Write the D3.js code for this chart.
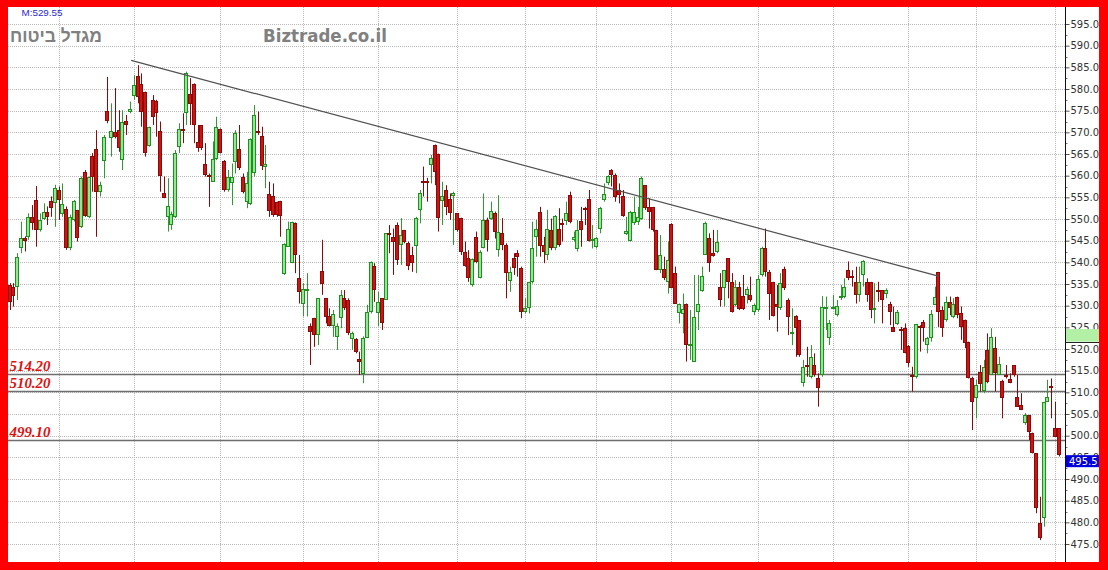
<!DOCTYPE html>
<html><head><meta charset="utf-8">
<script src="https://cdn.jsdelivr.net/npm/d3@7"></script>
<style>html,body{margin:0;padding:0;background:#fff;}svg{display:block}</style>
</head><body>
<svg id="c" width="1108" height="570"></svg>
<script>
const opens = [534.8,534.2,534.4,543.2,545.5,545.9,550.4,554.4,547.5,549.9,551.7,554.2,553.6,556.7,551.2,552.3,543.2,549.8,552.1,548.2,
560.9,550.4,564.6,566.1,556.3,563.4,575.0,568.8,570.1,570.5,563.6,572.6,574.6,578.4,583.0,581.1,579.2,566.8,577.5,577.2,
570.2,556.1,550.5,548.6,550.5,566.7,570.8,574.5,578.8,581.2,567.8,571.7,562.6,560.2,558.6,563.8,570.7,563.4,556.7,558.2,
563.2,566.1,559.8,554.0,553.5,560.5,570.3,569.1,562.1,555.7,555.2,554.0,554.2,537.3,543.6,539.9,549.0,536.3,530.5,533.7,
525.3,527.2,523.2,538.1,531.7,527.6,525.2,522.7,527.1,531.7,531.3,522.2,522.2,517.7,514.2,522.6,528.6,539.2,528.2,531.7,
531.3,546.8,545.9,548.6,544.0,547.5,544.4,541.7,543.8,552.1,558.8,558.8,562.5,567.1,565.1,554.2,556.7,554.6,555.2,551.3,
550.3,542.3,540.9,534.8,545.9,536.3,543.4,549.8,550.1,551.5,542.8,546.7,544.0,535.7,541.1,542.1,538.6,528.6,529.4,535.5,
545.8,551.7,544.0,541.7,547.5,543.2,547.8,549.0,549.6,555.5,545.2,543.0,549.5,552.6,554.6,545.1,543.5,547.8,554.4,558.4,
561.3,560.1,556.8,555.3,546.5,545.0,549.0,549.4,549.9,557.8,552.8,552.8,547.5,538.2,538.4,535.4,548.8,537.5,528.4,528.1,
530.5,520.9,517.1,528.6,533.4,541.7,545.5,542.2,542.5,534.4,534.0,540.9,535.5,530.2,534.4,532.2,532.5,532.5,528.6,529.0,
537.1,543.2,537.8,535.5,530.5,529.4,538.4,531.3,523.6,527.6,526.7,512.2,516.3,513.5,516.3,513.2,514.0,529.7,522.5,529.7,
527.8,531.7,532.1,538.2,536.8,535.5,532.5,537.1,535.5,535.5,529.0,533.6,533.6,532.8,530.5,525.1,525.8,524.6,524.8,520.7,
514.1,513.5,525.3,526.3,520.9,522.5,530.2,537.8,529.0,526.7,530.9,527.5,532.1,528.2,526.8,521.7,513.2,508.6,514.8,510.2,
519.8,514.0,520.2,514.0,512.7,514.1,513.0,516.3,509.0,507.1,502.9,504.8,500.7,495.9,479.8,480.9,507.8,511.5,501.7,501.7];
const highs = [535.2,535.2,542.1,549.4,546.0,551.3,553.2,557.6,551.3,553.6,552.9,555.2,557.9,557.5,558.2,552.9,551.0,554.4,552.1,559.8,
561.3,559.8,565.2,570.5,558.6,569.4,582.8,576.7,580.2,575.1,575.1,574.0,577.1,583.2,585.5,583.6,579.4,571.3,578.6,577.5,
572.5,559.8,559.4,551.7,565.9,572.1,574.4,584.0,582.5,581.3,571.7,571.7,567.5,560.5,567.9,573.6,570.9,563.6,561.3,562.8,
570.5,571.7,560.5,560.9,568.6,576.3,574.8,571.3,567.1,558.6,558.2,554.0,554.2,544.4,549.4,549.4,549.2,541.7,535.2,537.5,
525.9,527.2,531.7,545.2,531.7,529.4,529.0,525.9,533.6,533.6,531.7,524.0,522.5,519.4,522.9,530.2,540.2,539.8,533.2,531.7,
546.7,548.6,547.8,549.2,550.2,547.5,544.8,543.6,550.5,556.7,562.1,559.5,564.8,567.2,565.1,558.6,557.8,555.9,556.3,551.3,
550.3,544.8,542.8,540.9,547.1,542.8,555.9,550.3,554.0,551.7,555.5,550.2,544.4,539.0,542.1,542.8,539.0,531.7,535.5,549.4,
549.8,552.8,545.9,552.1,550.1,550.9,552.5,550.1,554.0,556.3,547.1,549.8,552.8,552.8,556.7,548.6,545.9,552.8,558.2,560.1,
561.5,560.5,558.2,556.7,550.5,551.9,555.2,552.8,559.8,557.8,554.8,552.8,547.5,546.3,541.3,544.8,549.0,539.0,530.5,532.8,
530.5,529.0,537.1,537.1,539.0,549.4,546.7,547.5,547.5,537.5,538.2,540.9,537.5,535.9,535.5,537.1,534.4,536.7,530.5,537.1,
543.6,547.8,538.2,535.5,534.8,537.5,539.0,531.7,529.4,527.8,526.7,517.5,520.5,520.9,519.0,514.4,532.2,532.1,526.7,532.5,
531.3,534.8,536.3,540.2,538.2,539.0,539.0,540.5,536.3,535.5,535.2,535.5,533.6,534.0,530.9,529.8,529.0,525.1,525.9,520.9,
515.9,525.8,525.5,526.7,522.8,529.0,534.4,537.8,529.8,532.1,532.1,531.7,532.1,529.8,526.8,521.7,513.6,512.9,516.3,517.5,
523.6,524.8,522.8,518.2,512.9,516.3,514.4,516.3,514.0,509.8,505.2,504.8,500.7,495.9,485.9,507.8,512.9,513.2,507.8,501.7];
const lows = [529.0,529.8,531.3,542.1,542.5,545.2,547.5,543.6,547.1,549.8,548.6,550.5,548.2,549.8,550.5,542.9,542.8,549.4,544.8,547.9,
550.5,550.2,556.3,545.9,555.2,559.4,572.1,564.4,568.6,565.5,561.3,569.4,574.4,577.5,576.7,571.3,564.4,566.7,571.7,569.0,
556.3,554.8,547.1,547.5,550.2,565.2,567.5,571.7,571.7,567.5,565.5,565.9,559.8,552.8,558.6,563.6,565.2,556.3,556.3,553.2,
560.5,561.3,555.9,552.5,553.2,559.8,569.4,561.3,557.1,550.5,550.5,550.5,545.9,537.1,543.6,539.8,537.5,530.5,527.5,527.5,
516.3,520.5,520.9,532.5,525.9,525.2,522.8,519.8,524.8,529.0,523.2,519.8,519.0,514.0,512.1,522.5,528.2,530.9,525.2,524.4,
531.3,542.1,537.1,539.4,539.4,544.4,538.2,537.8,537.5,549.0,555.2,554.0,558.2,557.8,547.1,548.6,550.9,549.8,544.0,547.1,
541.7,539.0,535.5,534.4,539.8,536.3,543.2,542.5,549.8,545.5,541.3,542.8,531.7,533.2,537.1,536.7,527.1,528.2,528.2,535.1,
541.3,541.3,539.8,540.5,542.8,542.8,543.6,544.8,548.6,549.0,544.8,542.5,543.6,548.6,544.8,543.2,543.2,546.7,554.0,557.8,
557.5,554.0,553.6,550.5,546.3,544.8,548.6,548.6,549.8,552.1,547.8,547.1,538.2,537.5,535.9,532.8,534.0,530.5,525.9,523.6,
517.1,517.5,517.1,524.4,533.2,541.7,537.8,541.3,542.1,529.8,529.8,531.7,528.4,529.8,529.0,529.0,530.5,530.9,527.8,528.6,
536.7,536.7,526.7,527.5,524.0,529.0,533.6,523.2,520.9,518.2,518.2,511.3,513.6,513.2,513.6,506.7,513.6,524.4,520.9,529.4,
527.5,531.3,531.7,535.9,534.4,530.5,530.9,534.4,530.9,527.1,525.9,530.9,525.9,531.7,525.5,524.0,525.5,519.8,519.0,515.9,
510.2,513.2,519.4,521.7,519.0,521.7,530.2,525.1,522.8,526.3,527.8,527.1,527.1,522.1,520.2,513.2,501.3,504.0,510.2,509.8,
512.1,514.0,510.2,514.0,504.0,513.2,512.1,513.6,506.7,505.9,502.5,499.0,495.9,482.1,475.9,479.0,507.8,504.0,499.8,495.2];
const closes = [530.9,532.2,541.3,545.7,545.0,550.4,549.0,547.5,549.8,551.7,550.5,552.5,557.1,554.4,553.5,543.2,550.4,554.2,545.5,559.4,
550.7,559.6,559.8,556.3,557.8,569.0,572.6,570.3,569.0,566.5,572.5,571.7,575.4,580.9,578.2,574.6,565.2,571.2,573.6,574.4,
560.0,554.9,553.0,551.2,565.3,570.7,570.5,583.6,576.5,571.7,566.3,566.5,560.2,559.8,563.8,571.3,565.2,556.7,559.8,559.6,
569.8,561.7,556.3,558.2,568.4,574.0,569.9,562.2,562.6,551.9,550.9,550.9,550.7,544.2,547.6,549.4,541.7,533.2,533.8,533.8,
524.0,523.2,531.7,535.0,527.5,525.3,528.1,525.2,532.5,529.4,523.6,523.8,519.4,517.1,522.5,528.6,540.0,533.5,530.8,526.1,
546.7,546.6,544.6,540.5,546.3,544.6,539.2,539.8,550.3,555.9,558.4,558.5,564.0,560.9,550.3,555.2,552.8,551.3,555.9,547.5,
542.3,539.2,536.3,540.8,540.0,542.5,549.8,545.2,551.8,547.1,546.9,544.0,537.5,537.8,538.6,541.3,528.6,529.4,535.4,543.2,
547.8,543.8,542.4,547.8,543.2,550.7,544.0,548.6,551.3,549.4,545.8,547.5,547.5,552.5,544.9,545.3,545.7,552.6,555.7,559.9,
560.1,555.0,555.5,550.7,547.2,551.7,551.7,550.4,559.4,552.5,551.7,547.5,538.2,541.7,536.5,540.5,534.1,530.5,530.5,529.2,
520.9,521.1,527.4,530.5,536.8,549.0,539.8,541.5,544.8,531.2,538.2,535.5,528.6,534.4,529.2,529.2,533.8,531.3,530.2,536.1,
543.2,537.8,532.7,527.6,529.6,535.2,534.0,527.5,524.0,524.8,518.6,515.9,515.9,518.2,514.0,510.9,529.8,529.8,525.9,529.8,
529.9,532.2,534.2,536.5,536.5,532.5,535.5,540.2,532.5,529.0,529.4,533.3,531.3,533.5,528.6,524.0,528.6,524.2,519.0,516.7,
513.5,525.8,524.8,524.8,522.5,528.1,532.1,528.6,524.8,530.9,529.4,530.5,527.8,525.1,521.3,513.2,507.8,511.7,511.9,515.9,
512.5,522.8,514.4,516.5,508.8,513.8,512.2,514.0,506.7,505.9,504.8,500.9,495.9,483.2,476.3,507.8,509.0,510.9,499.8,495.5];

const yTicks = d3.range(475, 596, 5);
const monthGrid = [13, 33, 56, 78, 98, 119, 137, 156, 176, 199, 219, 239, 257, 278];
const supportLevels = [514.2, 510.2, 499.1];
const supportLabels = ["514.20", "510.20", "499.10"];
const trendIdx = [32.3, 247];
const trendPrice = [586.6, 536.8];
const lastPrice = 495.5;
const markerLow = 521.7, markerHigh = 524.6;
const titleText = "מגדל ביטוח";
const siteText = "Biztrade.co.il";
const mText = "M:529.55";

const W = 1108, H = 570;
const P = {left: 8, right: 1065, top: 7, bottom: 562};
const svg = d3.select("#c");
svg.append("rect").attr("width", W).attr("height", H).attr("fill", "#fff");

const n = opens.length;
const x = d3.scaleLinear().domain([0, n - 1]).range([9.7, 1058.7]);
const y = d3.scaleLinear().domain([475, 595]).range([544, 24]);

svg.append("defs").append("clipPath").attr("id", "clip")
  .append("rect").attr("x", P.left).attr("y", P.top).attr("width", P.right - P.left).attr("height", P.bottom - P.top);

// grid
const grid = svg.append("g");
grid.selectAll("line.h").data(yTicks).join("line")
  .attr("x1", P.left).attr("x2", P.right)
  .attr("y1", d => Math.round(y(d)) + 0.5).attr("y2", d => Math.round(y(d)) + 0.5)
  .attr("stroke", "#b8b8b8").attr("stroke-dasharray", "1,1");
grid.selectAll("line.v").data(monthGrid).join("line")
  .attr("x1", d => Math.round(x(d)) + 0.5).attr("x2", d => Math.round(x(d)) + 0.5)
  .attr("y1", P.top).attr("y2", P.bottom)
  .attr("stroke", "#b8b8b8").attr("stroke-dasharray", "1,1");

// support lines
const sup = svg.append("g");
sup.selectAll("line").data(supportLevels).join("line")
  .attr("x1", P.left).attr("x2", P.right + 1)
  .attr("y1", d => Math.round(y(d)) + 0.5).attr("y2", d => Math.round(y(d)) + 0.5)
  .attr("stroke", "#6e6e6e").attr("stroke-width", 1.5);

// candles
const data = d3.range(n).map(i => ({i, o: opens[i], h: highs[i], l: lows[i], c: closes[i]}));
const cg = svg.append("g").attr("clip-path", "url(#clip)");
const cs = cg.selectAll("g").data(data).join("g");
cs.append("line")
  .attr("x1", d => Math.round(x(d.i)) + 0.5).attr("x2", d => Math.round(x(d.i)) + 0.5)
  .attr("y1", d => y(d.h)).attr("y2", d => y(d.l))
  .attr("stroke", d => d.c >= d.o ? "#2f9a2f" : "#8a0a0a").attr("stroke-width", 1);
cs.append("rect")
  .attr("x", d => Math.round(x(d.i)) - 1.5)
  .attr("width", 3)
  .attr("y", d => Math.round(y(Math.max(d.o, d.c))) + 0.5)
  .attr("height", d => Math.max(1, Math.round(y(Math.min(d.o, d.c))) - Math.round(y(Math.max(d.o, d.c))) - 1))
  .attr("fill", d => d.c >= d.o ? "#92e892" : "#d01212")
  .attr("stroke", d => d.c >= d.o ? "#1f8f1f" : "#8a0a0a").attr("stroke-width", 1);

// trend line
svg.append("line")
  .attr("x1", x(trendIdx[0])).attr("y1", y(trendPrice[0]))
  .attr("x2", x(trendIdx[1])).attr("y2", y(trendPrice[1]))
  .attr("stroke", "#505050").attr("stroke-width", 1.2);

// support labels
svg.append("g").selectAll("text").data(supportLevels).join("text")
  .attr("x", 9.5).attr("y", d => Math.round(y(d)) - 3.5)
  .attr("font-family", "Liberation Serif, serif").attr("font-style", "italic").attr("font-weight", "bold")
  .attr("font-size", 14).attr("fill", "#e01010")
  .attr("textLength", 41).attr("lengthAdjust", "spacingAndGlyphs")
  .text((d, i) => supportLabels[i]);

// axis
const ax = svg.append("g").attr("transform", `translate(${P.right + 0.5},0)`);
ax.call(d3.axisRight(y).tickValues(yTicks).tickFormat(d3.format(".1f")).tickSize(4).tickPadding(1));
ax.select(".domain").remove();
ax.selectAll(".tick line").attr("stroke", "#555");
ax.selectAll(".tick text").attr("font-family", "DejaVu Sans, Verdana, sans-serif").attr("font-size", 10).attr("fill", "#333");
ax.append("g").selectAll("line").data(yTicks.slice(0, -1).map(v => v + 2.5)).join("line")
  .attr("x1", 0).attr("x2", 2).attr("y1", d => Math.round(y(d)) + 0.5).attr("y2", d => Math.round(y(d)) + 0.5)
  .attr("stroke", "#777");
ax.append("line").attr("x1", 0).attr("x2", 0).attr("y1", P.top).attr("y2", P.bottom).attr("stroke", "#111");

// marker box (green)
svg.append("rect").attr("x", P.right + 1).attr("width", 1099 - P.right - 1)
  .attr("y", y(markerHigh)).attr("height", y(markerLow) - y(markerHigh))
  .attr("fill", "#b2f0a6");
svg.append("line").attr("x1", P.right + 1).attr("x2", 1099)
  .attr("y1", Math.round(y(markerLow)) + 0.5).attr("y2", Math.round(y(markerLow)) + 0.5)
  .attr("stroke", "#222");

// last price box
svg.append("rect").attr("x", P.right + 1).attr("width", 1099 - P.right - 1)
  .attr("y", y(lastPrice)).attr("height", 12)
  .attr("fill", "#0000dd");
svg.append("text").attr("x", 1069).attr("y", y(lastPrice) + 10)
  .attr("font-family", "DejaVu Sans, Verdana, sans-serif").attr("font-size", 10).attr("fill", "#fff")
  .text(d3.format(".1f")(lastPrice));

// titles
svg.append("text").attr("x", 56).attr("y", 42).attr("text-anchor", "middle")
  .attr("font-family", "Liberation Sans, Arial, sans-serif").attr("font-weight", "bold").attr("font-size", 18)
  .attr("fill", "#808080").attr("textLength", 92).attr("lengthAdjust", "spacingAndGlyphs").text(titleText);
svg.append("text").attr("x", 325).attr("y", 42).attr("text-anchor", "middle")
  .attr("font-family", "DejaVu Sans, Verdana, sans-serif").attr("font-weight", "bold").attr("font-size", 17)
  .attr("fill", "#808080").attr("textLength", 124).attr("lengthAdjust", "spacingAndGlyphs").text(siteText);
svg.append("text").attr("x", 21.5).attr("y", 16)
  .attr("font-family", "Liberation Sans, Arial, sans-serif").attr("font-size", 9.5)
  .attr("fill", "#2a2acc").attr("textLength", 41).attr("lengthAdjust", "spacingAndGlyphs").text(mText);

// red frame
const frame = svg.append("g").attr("fill", "#ff0000");
frame.append("rect").attr("x", 0).attr("y", 0).attr("width", W).attr("height", P.top);
frame.append("rect").attr("x", 0).attr("y", P.bottom).attr("width", W).attr("height", H - P.bottom);
frame.append("rect").attr("x", 0).attr("y", 0).attr("width", P.left).attr("height", H);
frame.append("rect").attr("x", 1099).attr("y", 0).attr("width", W - 1099).attr("height", H);
</script>
</body></html>
